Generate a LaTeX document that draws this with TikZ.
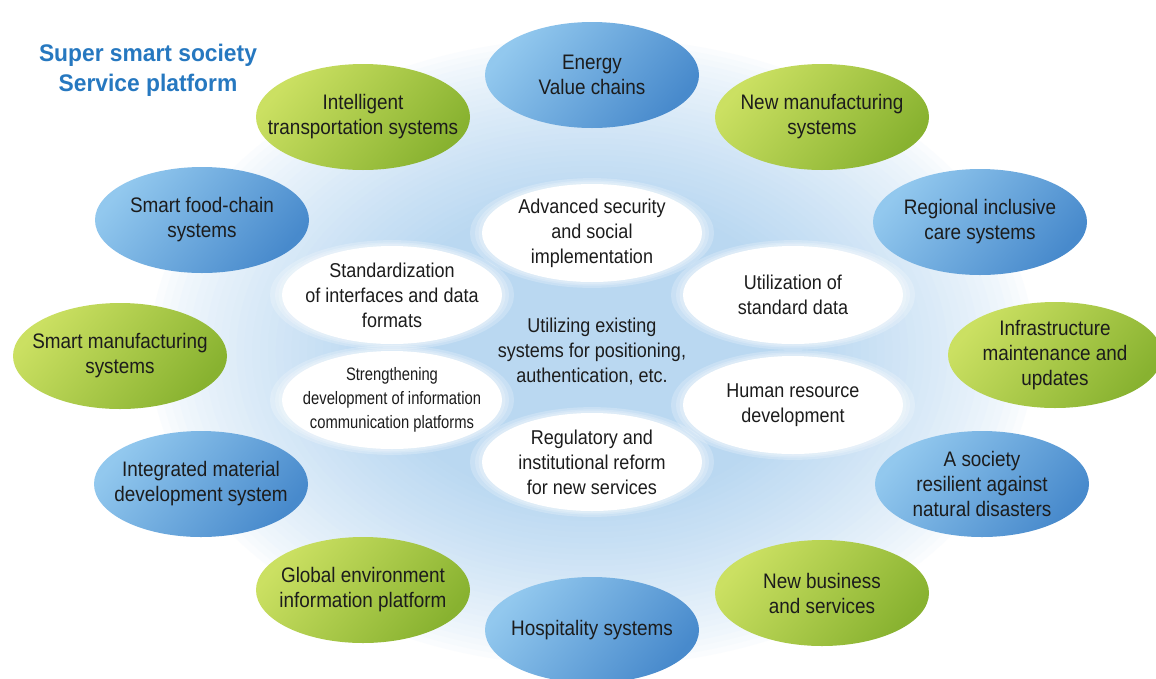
\documentclass[tikz,border=0pt]{standalone}
\usepackage{fontspec}
\setmainfont{Liberation Sans}[FakeStretch=0.9]
\newfontfamily\titlefont{Liberation Sans}[FakeStretch=0.95]
\newfontfamily\narrowfont{Liberation Sans}[FakeStretch=0.82]
\usetikzlibrary{shapes.geometric}
\definecolor{glowc}{RGB}{186,216,241}
\definecolor{bluelt}{RGB}{146,200,238}
\definecolor{bluedk}{RGB}{72,138,204}
\definecolor{greenlt}{RGB}{203,224,98}
\definecolor{greendk}{RGB}{136,178,48}
\definecolor{titleblue}{RGB}{38,120,192}
\definecolor{txtc}{RGB}{28,28,28}
\begin{document}
\begin{tikzpicture}[x=1pt,y=-1pt,
  outer/.style={ellipse, minimum width=214pt, minimum height=106pt, inner sep=0pt},
  blueell/.style={outer, top color=bluelt, bottom color=bluedk, shading angle=50},
  greenell/.style={outer, top color=greenlt, bottom color=greendk, shading angle=50},
  whiteell/.style={ellipse, fill=white, minimum width=220pt, minimum height=98pt, inner sep=0pt},
  halo/.style={ellipse, fill=white, opacity=0.22, minimum width=#1, minimum height=#1*0.45, inner sep=0pt},
  otxt/.style={align=center, text=txtc, font=\fontsize{21}{25}\selectfont, inner sep=0pt},
  itxt/.style={align=center, text=txtc, font=\fontsize{20}{25}\selectfont, inner sep=0pt},
  ntxt/.style={align=center, text=txtc, font=\narrowfont\fontsize{18}{24}\selectfont, inner sep=0pt}
]
\useasboundingbox (0,0) rectangle (1156,678);
\fill[white] (0,0) rectangle (1156,678);
% background glow: stacked ellipses, outermost lightest
\coordinate (gc) at (592,352);
\foreach \i in {0,...,44}{
  \pgfmathsetmacro{\f}{1-0.0175*\i}
  \pgfmathsetmacro{\p}{min(100,100*(\i/30)^0.75)}
  \fill[glowc!\p!white] (gc) ellipse [x radius=\f*450pt, y radius=\f*320pt];
}

% title
\node[align=center, text=titleblue, font=\titlefont\bfseries\fontsize{24}{30}\selectfont, inner sep=0pt] (title) at (148,70) {Super smart society\\Service platform};

% outer ring
\node[blueell]  (e1)  at (592,75)   {};
\node[greenell] (e2)  at (822,117)  {};
\node[blueell]  (e3)  at (980,222)  {};
\node[greenell] (e4)  at (1055,355) {};
\node[blueell]  (e5)  at (982,484)  {};
\node[greenell] (e6)  at (822,593)  {};
\node[blueell]  (e7)  at (592,630)  {};
\node[greenell] (e8)  at (363,590)  {};
\node[blueell]  (e9)  at (201,484)  {};
\node[greenell] (e10) at (120,356)  {};
\node[blueell]  (e11) at (202,220)  {};
\node[greenell] (e12) at (363,117)  {};

\node[otxt] (t1)  at (e1)  {Energy\\Value chains};
\node[otxt] (t2)  at (e2)  {New manufacturing\\systems};
\node[otxt] (t3)  at (e3)  {Regional inclusive\\care systems};
\node[otxt] (t4)  at (e4)  {Infrastructure\\maintenance and\\updates};
\node[otxt] (t5)  at (e5)  {A society\\resilient against\\natural disasters};
\node[otxt] (t6)  at (e6)  {New business\\and services};
\node[otxt] (t7)  at (e7)  {Hospitality systems};
\node[otxt] (t8)  at (e8)  {Global environment\\information platform};
\node[otxt] (t9)  at (e9)  {Integrated material\\development system};
\node[otxt] (t10) at (e10) {Smart manufacturing\\systems};
\node[otxt] (t11) at (e11) {Smart food-chain\\systems};
\node[otxt] (t12) at (e12) {Intelligent\\transportation systems};

% inner white ellipses with soft halo
\foreach \n/\x/\y in {1/592/233, 2/793/295, 3/793/405, 4/592/462, 5/392/400, 6/392/295}{
  \node[halo=244pt] (ha\n) at (\x,\y) {};
  \node[halo=234pt] (hb\n) at (\x,\y) {};
  \node[halo=227pt] (hc\n) at (\x,\y) {};
}
\node[whiteell] (w1) at (592,233) {};
\node[whiteell] (w2) at (793,295) {};
\node[whiteell] (w3) at (793,405) {};
\node[whiteell] (w4) at (592,462) {};
\node[whiteell] (w5) at (392,400) {};
\node[whiteell] (w6) at (392,295) {};

\node[itxt] (u1) at (w1) {Advanced security\\and social\\implementation};
\node[itxt] (u2) at (w2) {Utilization of\\standard data};
\node[itxt] (u3) at (w3) {Human resource\\development};
\node[itxt] (u4) at (w4) {Regulatory and\\institutional reform\\for new services};
\node[ntxt] (u5) at (w5) {Strengthening\\development of information\\communication platforms};
\node[itxt] (u6) at (w6) {Standardization\\of interfaces and data\\formats};
\node[itxt] (c)  at (592,352) {Utilizing existing\\systems for positioning,\\authentication, etc.};
\end{tikzpicture}
\end{document}
